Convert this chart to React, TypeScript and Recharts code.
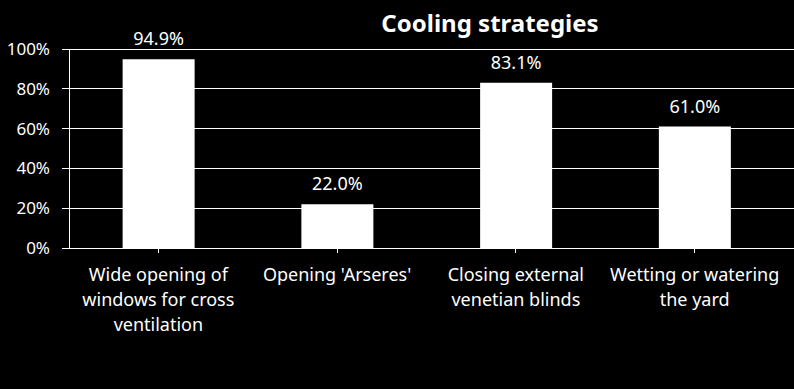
import { BarChart, Bar, XAxis, YAxis, CartesianGrid, LabelList } from 'recharts';

const categories = [
  'Wide opening of\nwindows for cross\nventilation',
  "Opening 'Arseres'",
  'Closing external\nvenetian blinds',
  'Wetting or watering\nthe yard',
];
const shares = [94.9, 22.0, 83.1, 61.0];
const yTicks = [0, 20, 40, 60, 80, 100];

const data = categories.map((name, i) => ({ name, value: shares[i] }));

const FONT = '"Noto Sans", sans-serif';

function CategoryTick(props: any) {
  const { x, y, payload } = props;
  const lines = String(payload.value).split('\n');
  return (
    <text x={x} y={y} textAnchor="middle" fill="#fff" fontSize={18} fontFamily={FONT}>
      {lines.map((line: string, i: number) => (
        <tspan key={i} x={x} dy={i === 0 ? 26 : 25}>
          {line}
        </tspan>
      ))}
    </text>
  );
}

export default function App() {
  return (
    <div style={{ position: 'absolute', left: 0, top: 0, width: 794, height: 389, background: '#000' }}>
      <svg width={794} height={389} style={{ position: 'absolute', left: 0, top: 0 }}>
        <text x={490} y={32} textAnchor="middle" fill="#fff" fontSize={24} fontWeight="bold" fontFamily={FONT}>
          Cooling strategies
        </text>
      </svg>
      <div style={{ position: 'absolute', left: 0, top: 0 }}>
        <BarChart
          width={794}
          height={389}
          data={data}
          margin={{ top: 49, right: 0, bottom: 0, left: 0 }}
          barCategoryGap="30%"
        >
          <CartesianGrid stroke="#fff" vertical={false} shapeRendering="crispEdges" />
          <XAxis
            dataKey="name"
            height={141}
            stroke="#fff"
            tickSize={5}
            tick={<CategoryTick />}
            interval={0}
            padding={{ left: 0, right: 10 }}
            shapeRendering="crispEdges"
          />
          <YAxis
            width={69}
            domain={[0, 100]}
            ticks={yTicks}
            stroke="#fff"
            tickSize={7}
            tickMargin={12}
            tickFormatter={(v: number) => `${v}%`}
            tick={{ fill: '#fff', fontSize: 17, fontFamily: FONT }}
            shapeRendering="crispEdges"
          />
          <Bar dataKey="value" fill="#fff" isAnimationActive={false}>
            <LabelList
              dataKey="value"
              position="top"
              offset={14}
              fill="#fff"
              fontSize={18}
              fontFamily={FONT}
              formatter={(v: any) => `${Number(v).toFixed(1)}%`}
            />
          </Bar>
        </BarChart>
      </div>
    </div>
  );
}
